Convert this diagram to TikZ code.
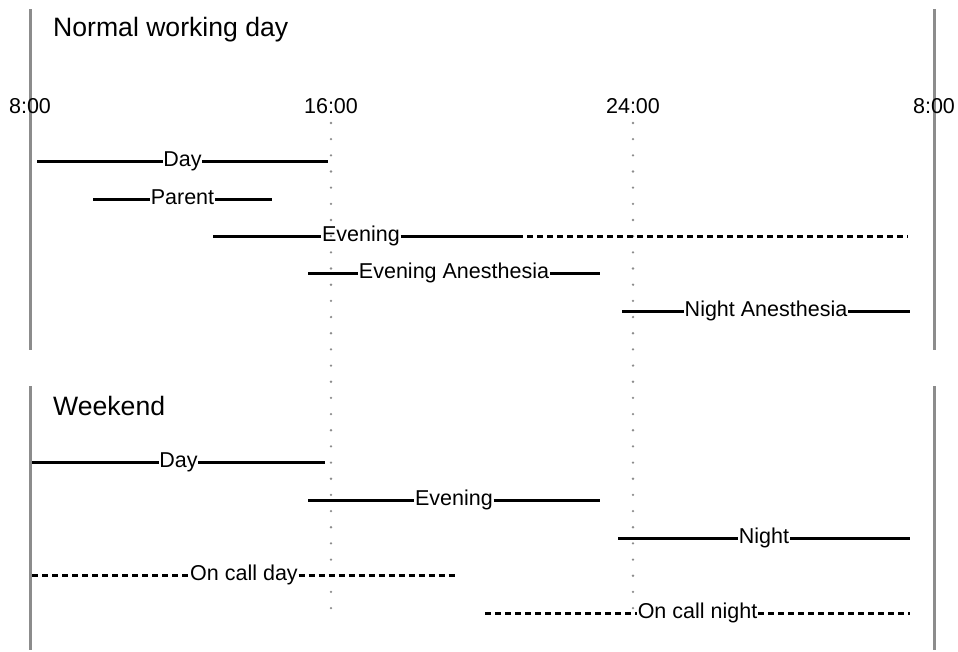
\documentclass[tikz,border=0pt]{standalone}
\usepackage{fontspec}
\setmainfont{Liberation Sans}
\definecolor{framegray}{RGB}{140,140,140}
\definecolor{dotgray}{RGB}{140,140,140}
\tikzset{
  frameline/.style={draw=framegray, line width=3pt},
  hourline/.style={draw=dotgray, line width=2.6pt, line cap=round, dash pattern=on 0pt off 16.17pt},
  shiftline/.style={draw=black, line width=3pt},
  oncall/.style={draw=black, line width=3pt, dash pattern=on 6pt off 4pt},
  lbl/.style={inner xsep=0.6pt, inner ysep=0pt, text height=15.4pt, text depth=4.5pt, font=\fontsize{21.5}{24}\selectfont},
  timelbl/.style={anchor=base, inner sep=0pt, font=\fontsize{21.5}{24}\selectfont},
  titlelbl/.style={anchor=base west, inner sep=0pt, font=\fontsize{26.6}{30}\selectfont}
}
\begin{document}
\begin{tikzpicture}[x=1pt,y=-1pt]
\useasboundingbox (0,0) rectangle (958,651);
% frame lines
\coordinate (fTLa) at (30,9);   \coordinate (fTLb) at (30,350);
\coordinate (fTRa) at (934,9);  \coordinate (fTRb) at (934,350);
\coordinate (fBLa) at (30,386); \coordinate (fBLb) at (30,650);
\coordinate (fBRa) at (934,386);\coordinate (fBRb) at (934,650);
\draw[frameline] (fTLa) -- (fTLb);
\draw[frameline] (fTRa) -- (fTRb);
\draw[frameline] (fBLa) -- (fBLb);
\draw[frameline] (fBRa) -- (fBRb);
% hour lines
\coordinate (h16a) at (331,123); \coordinate (h16b) at (331,610);
\coordinate (h24a) at (633,123); \coordinate (h24b) at (633,610);
\draw[hourline] (h16a) -- (h16b);
\draw[hourline] (h24a) -- (h24b);
% titles
\node[titlelbl] (tnormal) at (53,36) {Normal working day};
\node[titlelbl] (tweekend) at (53,415) {Weekend};
% time labels
\node[timelbl] (t8a) at (30,113) {8:00};
\node[timelbl] (t16) at (331,113) {16:00};
\node[timelbl] (t24) at (633,113) {24:00};
\node[timelbl] (t8b) at (934,113) {8:00};
% --- Normal working day ---
\coordinate (dayA) at (37,161); \coordinate (dayB) at (328,161);
\node[lbl] (day) at (182.5,161) {Day};
\draw[shiftline] (dayA) -- (day) -- (dayB);

\coordinate (parA) at (93,199); \coordinate (parB) at (272,199);
\node[lbl] (par) at (182.5,199) {Parent};
\draw[shiftline] (parA) -- (par) -- (parB);

\coordinate (evA) at (213,236); \coordinate (evB) at (523,236);
\coordinate (evC) at (527,236); \coordinate (evD) at (908,236);
\node[lbl] (ev) at (361,236) {Evening};
\draw[shiftline] (evA) -- (ev) -- (evB);
\draw[oncall] (evC) -- (evD);

\coordinate (eaA) at (308,273); \coordinate (eaB) at (600,273);
\node[lbl] (ea) at (454,273) {Evening Anesthesia};
\draw[shiftline] (eaA) -- (ea) -- (eaB);

\coordinate (naA) at (622,311); \coordinate (naB) at (910,311);
\node[lbl] (na) at (766,311) {Night Anesthesia};
\draw[shiftline] (naA) -- (na) -- (naB);
% --- Weekend ---
\coordinate (wdA) at (32,462); \coordinate (wdB) at (325,462);
\node[lbl] (wd) at (178.5,462) {Day};
\draw[shiftline] (wdA) -- (wd) -- (wdB);

\coordinate (weA) at (308,500); \coordinate (weB) at (600,500);
\node[lbl] (we) at (454,500) {Evening};
\draw[shiftline] (weA) -- (we) -- (weB);

\coordinate (wnA) at (618,538); \coordinate (wnB) at (910,538);
\node[lbl] (wn) at (764,538) {Night};
\draw[shiftline] (wnA) -- (wn) -- (wnB);

\coordinate (ocdA) at (32,575); \coordinate (ocdB) at (457,575);
\node[lbl] (ocd) at (244,575) {On call day};
\draw[oncall] (ocdA) -- (ocd) -- (ocdB);

\coordinate (ocnA) at (485,613); \coordinate (ocnB) at (910,613);
\node[lbl] (ocn) at (697.5,613) {On call night};
\draw[oncall] (ocnA) -- (ocn) -- (ocnB);
\end{tikzpicture}
\end{document}
